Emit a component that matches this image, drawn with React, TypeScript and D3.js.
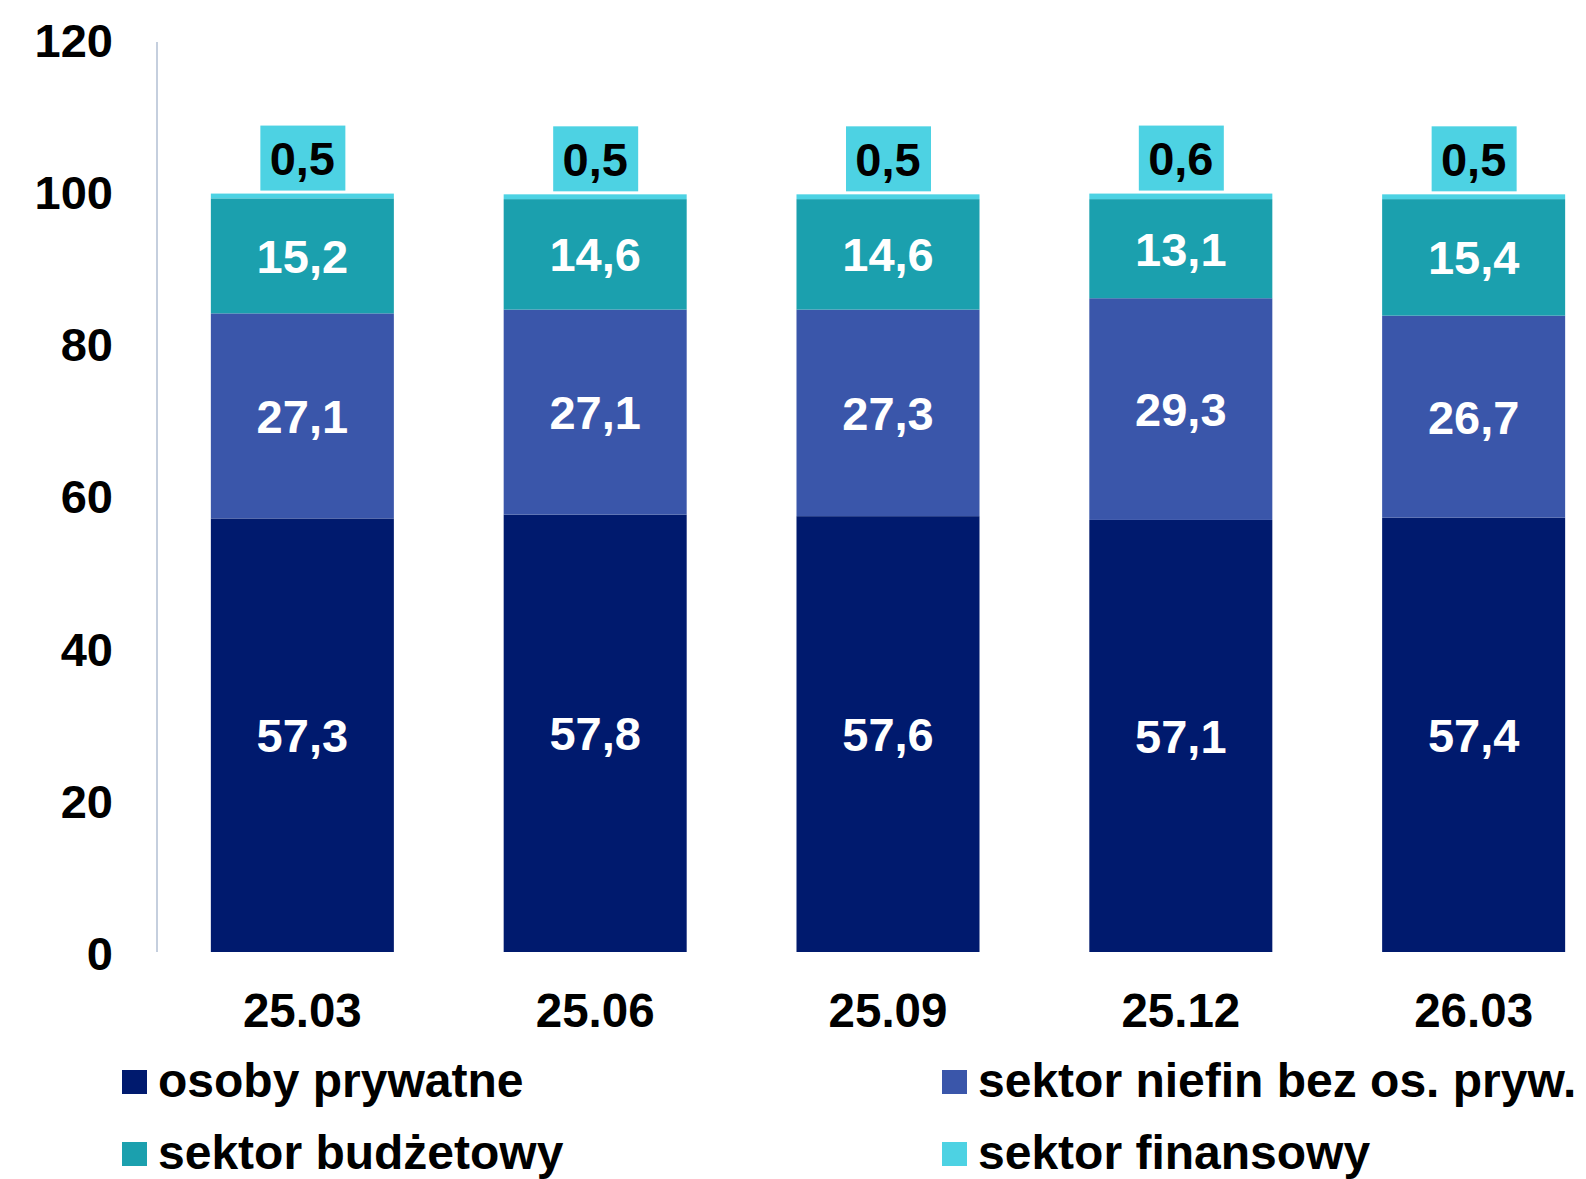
import React, { useEffect } from 'react';
import * as d3 from 'd3';

// quarters on the x axis
const categories = ['25.03', '25.06', '25.09', '25.12', '26.03'];

// series, bottom to top of each stack
const osobyPrywatne = [57.3, 57.8, 57.6, 57.1, 57.4];
const sektorNiefin = [27.1, 27.1, 27.3, 29.3, 26.7];
const sektorBudzetowy = [15.2, 14.6, 14.6, 13.1, 15.4];
const sektorFinansowy = [0.5, 0.5, 0.5, 0.6, 0.5];

const seriesNames = ['osoby prywatne', 'sektor niefin bez os. pryw.', 'sektor budżetowy', 'sektor finansowy'];
const seriesColors = ['#001a6e', '#3a56aa', '#1ba0ae', '#4dd2e3'];
const yTicks = [0, 20, 40, 60, 80, 100, 120];

const W = 1586;
const H = 1179;
const FONT = '"Liberation Sans", Arial, sans-serif';

const fmt = (v: number) => v.toFixed(1).replace('.', ',');

export default function App() {
  useEffect(() => {
    document.body.style.margin = '0';
  }, []);

  const rows = categories.map((c, i) => ({
    cat: c,
    s0: osobyPrywatne[i],
    s1: sektorNiefin[i],
    s2: sektorBudzetowy[i],
    s3: sektorFinansowy[i],
  }));
  const keys = ['s0', 's1', 's2', 's3'];
  const stacked = d3.stack<any>().keys(keys)(rows);

  const x = d3.scaleBand()
    .domain(categories)
    .range([164, 1612])
    .paddingInner(0.375)
    .paddingOuter(0.16);

  const y = d3.scaleLinear().domain([0, 120]).range([952, 44]);
  // tick labels sit a touch higher than the bars' scale in the original
  const yLabel = d3.scaleLinear().domain([0, 120]).range([953, 40]);

  return (
    <svg width={W} height={H} style={{ display: 'block', background: '#fff' }} fontFamily={FONT}>
      {/* y axis line */}
      <line x1={157} x2={157} y1={42} y2={y(0)} stroke="#c5cfde" strokeWidth={2} />
      {yTicks.map(t => (
        <text key={t} x={113} y={yLabel(t)} dy="0.36em" textAnchor="end" fontSize={47} fontWeight="bold" fill="#000">
          {t}
        </text>
      ))}

      {/* stacked bars */}
      {stacked.map((layer, li) => (
        <g key={li}>
          {layer.map((d, i) => (
            <rect
              key={i}
              x={x(categories[i])}
              y={y(d[1]) - (li === 3 ? 1 : 0)}
              width={x.bandwidth()}
              height={y(d[0]) - y(d[1]) + (li === 3 ? 1 : 0)}
              fill={seriesColors[li]}
            />
          ))}
        </g>
      ))}

      {/* labels inside segments */}
      {stacked.slice(0, 3).map((layer, li) => (
        <g key={'l' + li}>
          {layer.map((d, i) => (
            <text
              key={i}
              x={(x(categories[i]) as number) + x.bandwidth() / 2}
              y={(y(d[0]) + y(d[1])) / 2}
              dy="0.36em"
              textAnchor="middle"
              fontSize={47}
              fontWeight="bold"
              fill="#fff"
            >
              {fmt(d[1] - d[0])}
            </text>
          ))}
        </g>
      ))}

      {/* finansowy labels in boxes above bars */}
      {stacked[3].map((d, i) => {
        const cx = (x(categories[i]) as number) + x.bandwidth() / 2;
        const top = y(d[1]) - 4;
        return (
          <g key={'f' + i}>
            <rect x={cx - 42} y={top - 65} width={85} height={65} fill={seriesColors[3]} />
            <text x={cx} y={top - 32} dy="0.36em" textAnchor="middle" fontSize={47} fontWeight="bold" fill="#000">
              {fmt(d[1] - d[0])}
            </text>
          </g>
        );
      })}

      {/* category labels */}
      {categories.map(c => (
        <text
          key={c}
          x={(x(c) as number) + x.bandwidth() / 2}
          y={1010}
          dy="0.36em"
          textAnchor="middle"
          fontSize={47.5}
          fontWeight="bold"
          fill="#000"
        >
          {c}
        </text>
      ))}

      {/* legend */}
      {seriesNames.map((name, i) => {
        const col = i % 2;
        const row = Math.floor(i / 2);
        const lx = col === 0 ? 122 : 942;
        const ly = 1070 + row * 72;
        return (
          <g key={name}>
            <rect x={lx} y={ly} width={25} height={24} fill={seriesColors[i]} />
            <text x={lx + 36} y={ly + 27} fontSize={48} fontWeight="bold" fill="#000">
              {name}
            </text>
          </g>
        );
      })}
    </svg>
  );
}
